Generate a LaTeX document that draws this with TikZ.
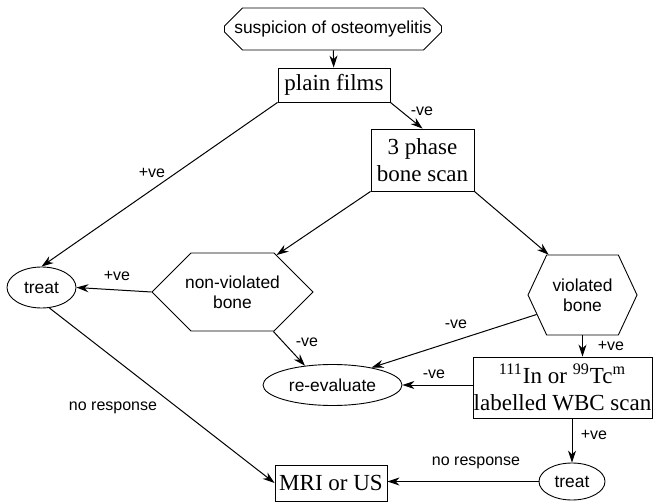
\documentclass[tikz,border=0pt]{standalone}
\usepackage{fontspec}
\setmainfont{Liberation Serif}
\setsansfont{Liberation Sans}
\usetikzlibrary{arrows.meta,shapes.geometric,shapes.misc,shapes.symbols}
\tikzset{
    every node/.style={font=\sffamily\fontsize{8.7}{10}\selectfont},
    startbox/.style={chamfered rectangle,chamfered rectangle xsep=4pt,chamfered rectangle ysep=5pt,draw,minimum width=108.5pt,minimum height=21pt,inner sep=0pt},
    testbox/.style={rectangle,draw,font=\rmfamily\fontsize{11.5}{13.5}\selectfont,align=center,inner sep=0pt},
    outcome/.style={ellipse,draw,inner sep=0pt},
    bonehex/.style={signal,signal to=east and west,draw,align=center,inner sep=0pt},
    lbl/.style={font=\sffamily\fontsize{8}{9}\selectfont,inner sep=0pt},
    flow/.style={draw,-{Stealth[length=6pt,width=4pt]},line width=0.5pt}
}
\begin{document}
\begin{tikzpicture}[x=0.5pt,y=-0.5pt,line width=0.45pt]
\useasboundingbox (0,0) rectangle (653,502);
\node[startbox] (suspicion) at (333,29) {suspicion of osteomyelitis};
\node[testbox,minimum width=56pt,minimum height=17pt] (plain) at (334,85) {plain films};
\node[testbox,minimum width=51.5pt,minimum height=31pt] (phase) at (422.5,160) {3 phase\\bone scan};
\node[outcome,minimum width=34.5pt,minimum height=20.5pt] (treatA) at (41.5,287.5) {treat};
\node[bonehex,signal pointer angle=90,inner xsep=-3pt,minimum height=39pt] (nonviol) at (232.5,292) {non-violated\\bone};
\node[bonehex,signal pointer angle=130,minimum width=54.5pt,minimum height=40pt] (viol) at (582.5,295) {violated\\bone};
\node[outcome,minimum width=69.5pt,minimum height=20.5pt] (reeval) at (332.5,385) {re-evaluate};
\node[testbox,minimum width=89.5pt,minimum height=30.5pt] (wbc) at (562.5,387.5) {\textsuperscript{111}In or \textsuperscript{99}Tc\textsuperscript{m}\\labelled WBC scan};
\node[outcome,minimum width=33pt,minimum height=18.5pt] (treatB) at (572,481.5) {treat};
\node[testbox,minimum width=56pt,minimum height=18pt] (mri) at (331,483) {MRI or US};

\draw[flow] (suspicion) -- (plain);
\draw[flow] (plain.south east) -- (phase.north);
\draw[flow] (plain.south west) -- (treatA.north);
\draw[flow] (phase.south west) -- (nonviol.40);
\draw[flow] (phase.south east) -- (viol.130);
\draw[flow] (nonviol.west) -- (treatA.east);
\draw[flow] (nonviol.-44) -- (reeval.145);
\draw[flow] (viol.203) -- (reeval.24);
\draw[flow] (viol.south) -- (viol.south |- wbc.north);
\draw[flow] (wbc.west |- reeval.east) -- (reeval.east);
\draw[flow] (treatB.north |- wbc.south) -- (treatB.north);
\draw[flow] (treatB.west) -- (treatB.west -| mri.east);
\draw[flow] (treatA.-69) -- (mri.west);

\foreach \n/\x/\y/\t in {a/152/173/+ve,b/422/111/-ve,c/117/276/+ve,d/307/342/-ve,e/456/324/-ve,f/611/346/+ve,g/434/374/-ve,h/594/435/+ve,i/476/463/no response,j/113/408/no response}
    \node[lbl] (lab\n) at (\x,\y) {\t};
\end{tikzpicture}
\end{document}
